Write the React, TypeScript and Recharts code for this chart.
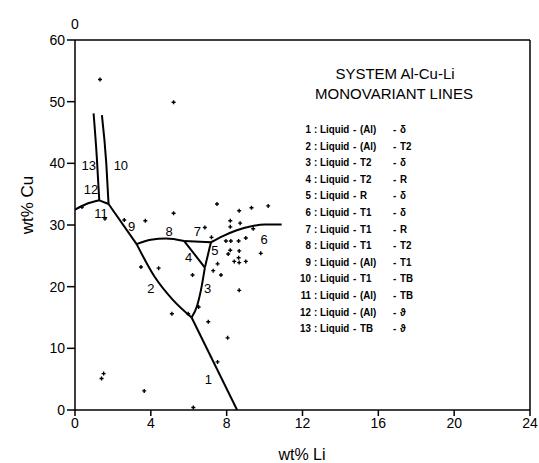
import { ComposedChart, Line, Scatter, XAxis, YAxis, ReferenceLine } from 'recharts';

const xTicks = [0, 4, 8, 12, 16, 20, 24];
const yTicks = [0, 10, 20, 30, 40, 50, 60];

// monovariant lines, wt% Li (x) vs wt% Cu (y)
const line1 = [{ x: 6.15, y: 15.0 }, { x: 8.55, y: 0 }];
const line2 = [{ x: 3.25, y: 26.9 }, { x: 4.2, y: 21.6 }, { x: 5.15, y: 17.9 }, { x: 6.15, y: 15.0 }];
const line3 = [{ x: 6.15, y: 15.0 }, { x: 6.45, y: 17.0 }, { x: 6.64, y: 19.4 }, { x: 6.85, y: 23.1 }];
const line4 = [{ x: 5.76, y: 27.4 }, { x: 6.85, y: 23.1 }];
const line5 = [{ x: 6.85, y: 23.1 }, { x: 7.17, y: 27.2 }];
const line6 = [{ x: 7.17, y: 27.2 }, { x: 7.8, y: 28.2 }, { x: 8.5, y: 29.1 }, { x: 9.3, y: 29.8 }, { x: 10, y: 30.1 }, { x: 10.9, y: 30.1 }];
const line7 = [{ x: 5.76, y: 27.4 }, { x: 7.17, y: 27.2 }];
const line8 = [{ x: 3.25, y: 26.9 }, { x: 4.0, y: 27.6 }, { x: 4.8, y: 27.8 }, { x: 5.76, y: 27.4 }];
const line9 = [{ x: 1.77, y: 33.4 }, { x: 3.25, y: 26.9 }];
const line10 = [{ x: 1.42, y: 47.8 }, { x: 1.65, y: 40 }, { x: 1.77, y: 33.4 }];
const line11 = [{ x: 1.28, y: 34.0 }, { x: 1.77, y: 33.4 }];
const line12 = [{ x: 0, y: 32.5 }, { x: 0.6, y: 33.4 }, { x: 1.28, y: 34.0 }];
const line13 = [{ x: 0.98, y: 48.1 }, { x: 1.15, y: 41 }, { x: 1.28, y: 34.0 }];

const allLines = [line1, line2, line3, line4, line5, line6, line7, line8, line9, line10, line11, line12, line13];

// measured alloys
const alloys = [
  { x: 1.32, y: 53.6 }, { x: 5.2, y: 49.9 }, { x: 0.37, y: 32.9 }, { x: 1.58, y: 31.0 },
  { x: 2.6, y: 30.8 }, { x: 3.71, y: 30.7 }, { x: 5.2, y: 31.9 }, { x: 7.49, y: 33.4 },
  { x: 8.66, y: 32.3 }, { x: 9.31, y: 32.8 }, { x: 10.19, y: 33.1 }, { x: 8.19, y: 30.7 },
  { x: 8.19, y: 29.7 }, { x: 8.71, y: 30.3 }, { x: 6.85, y: 29.6 }, { x: 9.4, y: 29.4 },
  { x: 7.2, y: 28.0 }, { x: 7.96, y: 27.4 }, { x: 8.22, y: 27.4 }, { x: 8.63, y: 27.4 },
  { x: 9.01, y: 27.9 }, { x: 8.19, y: 25.9 }, { x: 8.08, y: 25.3 }, { x: 8.66, y: 25.8 },
  { x: 8.4, y: 24.1 }, { x: 8.63, y: 24.7 }, { x: 8.66, y: 23.9 }, { x: 9.01, y: 24.1 },
  { x: 9.8, y: 25.4 }, { x: 7.52, y: 23.7 }, { x: 7.29, y: 22.6 }, { x: 7.7, y: 21.9 },
  { x: 6.2, y: 21.9 }, { x: 4.41, y: 23.0 }, { x: 3.48, y: 23.2 }, { x: 8.66, y: 19.4 },
  { x: 6.52, y: 16.7 }, { x: 5.97, y: 15.6 }, { x: 5.11, y: 15.6 }, { x: 7.03, y: 14.3 },
  { x: 8.05, y: 11.7 }, { x: 7.52, y: 7.8 }, { x: 1.51, y: 5.9 }, { x: 1.4, y: 5.1 },
  { x: 3.65, y: 3.1 }, { x: 6.24, y: 0.4 },
];

// line number annotations
const lineLabels = [
  { x: 0.72, y: 39.7, label: '13' }, { x: 2.42, y: 39.7, label: '10' },
  { x: 0.84, y: 35.7, label: '12' }, { x: 1.37, y: 31.9, label: '11' },
  { x: 2.98, y: 29.7, label: '9' }, { x: 4.97, y: 28.9, label: '8' },
  { x: 6.46, y: 28.9, label: '7' }, { x: 5.99, y: 24.7, label: '4' },
  { x: 7.38, y: 25.8, label: '5' }, { x: 9.98, y: 27.7, label: '6' },
  { x: 4.0, y: 19.7, label: '2' }, { x: 6.99, y: 19.7, label: '3' },
  { x: 7.04, y: 4.9, label: '1' },
];

const legendNums = ['1', '2', '3', '4', '5', '6', '7', '8', '9', '10', '11', '12', '13'];
const legendPhaseA = ['(Al)', '(Al)', 'T2', 'T2', 'R', 'T1', 'T1', 'T1', '(Al)', 'T1', '(Al)', '(Al)', 'TB'];
const legendPhaseB = ['δ', 'T2', 'δ', 'R', 'δ', 'δ', 'R', 'T2', 'T1', 'TB', 'TB', 'ϑ', 'ϑ'];

const font = 'Arial, "Liberation Sans", Helvetica, sans-serif';

// tick marks on the top and right frame edges
const topTicks = xTicks.map((x) => ({ x, y: 60 }));
const rightTicks = yTicks.map((y) => ({ x: 24, y }));

const Plus = (props: any) => {
  const { cx, cy } = props;
  if (cx == null || cy == null) return <g />;
  return <path d={`M${cx - 2},${cy}h4M${cx},${cy - 2}v4`} stroke="#000" strokeWidth={1.4} />;
};

const TopTick = (props: any) => {
  const { cx, cy } = props;
  if (cx == null || cy == null) return <g />;
  return <path d={`M${cx},${cy}v-4`} stroke="#000" strokeWidth={1.3} />;
};

const RightTick = (props: any) => {
  const { cx, cy } = props;
  if (cx == null || cy == null) return <g />;
  return <path d={`M${cx},${cy}h3`} stroke="#000" strokeWidth={1.3} />;
};

const NumLabel = (props: any) => {
  const { cx, cy, payload } = props;
  if (cx == null || cy == null) return <g />;
  return (
    <text
      x={cx}
      y={cy}
      textAnchor="middle"
      dominantBaseline="central"
      fontSize={13}
      fontFamily={font}
      style={{ fill: '#000' }}
    >
      {payload.label}
    </text>
  );
};

export default function App() {
  return (
    <div style={{ position: 'absolute', left: 0, top: 0, width: 539, height: 463, background: '#fff', fontFamily: font }}>
      <ComposedChart width={539} height={463} margin={{ top: 40, right: 9, bottom: 13, left: 15 }}>
        <XAxis
          dataKey="x"
          type="number"
          domain={[0, 24]}
          ticks={xTicks}
          height={40}
          allowDataOverflow
          stroke="#000"
          strokeWidth={1.5}
          tickSize={6}
          tick={{ fill: '#000', fontSize: 14, fontFamily: font }}
        />
        <YAxis
          dataKey="y"
          type="number"
          domain={[0, 60]}
          ticks={yTicks}
          width={60}
          allowDataOverflow
          stroke="#000"
          strokeWidth={1.5}
          tickSize={8}
          tick={{ fill: '#000', fontSize: 14, fontFamily: font }}
        />
        <ReferenceLine y={60} stroke="#000" strokeWidth={1.5} />
        <ReferenceLine x={24} stroke="#000" strokeWidth={1.5} />
        {allLines.map((seg, i) => (
          <Line
            key={i}
            data={seg}
            dataKey="y"
            type="monotone"
            stroke="#000"
            strokeWidth={2}
            dot={false}
            activeDot={false}
            isAnimationActive={false}
          />
        ))}
        <Scatter data={topTicks} dataKey="y" shape={TopTick} isAnimationActive={false} />
        <Scatter data={rightTicks} dataKey="y" shape={RightTick} isAnimationActive={false} />
        <Scatter data={alloys} dataKey="y" shape={Plus} isAnimationActive={false} />
        <Scatter data={lineLabels} dataKey="y" shape={NumLabel} isAnimationActive={false} />
      </ComposedChart>

      <div style={{ position: 'absolute', left: 71, top: 16, fontSize: 14, lineHeight: '16px' }}>0</div>
      <div
        style={{
          position: 'absolute',
          left: 28,
          top: 205,
          transform: 'translate(-50%, -50%) rotate(-90deg)',
          fontSize: 17,
          whiteSpace: 'nowrap',
        }}
      >
        wt% Cu
      </div>
      <div style={{ position: 'absolute', left: 302, top: 455, transform: 'translate(-50%, -50%)', fontSize: 16, whiteSpace: 'nowrap' }}>
        wt% Li
      </div>

      <div style={{ position: 'absolute', left: 395, top: 73, transform: 'translate(-50%, -50%)', fontSize: 15, whiteSpace: 'nowrap' }}>
        SYSTEM Al-Cu-Li
      </div>
      <div style={{ position: 'absolute', left: 394, top: 93, transform: 'translate(-50%, -50%)', fontSize: 15, whiteSpace: 'nowrap' }}>
        MONOVARIANT LINES
      </div>
      {legendNums.map((n, i) => {
        const top = 129 + i * 16.6 - 7;
        const s = {
          position: 'absolute' as const,
          top,
          fontSize: 11.5,
          fontWeight: 'bold' as const,
          whiteSpace: 'nowrap' as const,
          lineHeight: '14px',
          transform: 'scaleX(0.85)',
          transformOrigin: 'left center',
        };
        return (
          <div key={n}>
            <div style={{ ...s, left: 261, width: 50, textAlign: 'right', transformOrigin: 'right center' }}>{n}</div>
            <div style={{ ...s, left: 313.5 }}>:</div>
            <div style={{ ...s, left: 320 }}>Liquid</div>
            <div style={{ ...s, left: 353 }}>-</div>
            <div style={{ ...s, left: 360 }}>{legendPhaseA[i]}</div>
            <div style={{ ...s, left: 393 }}>-</div>
            <div style={{ ...s, left: 400 }}>{legendPhaseB[i]}</div>
          </div>
        );
      })}
    </div>
  );
}
